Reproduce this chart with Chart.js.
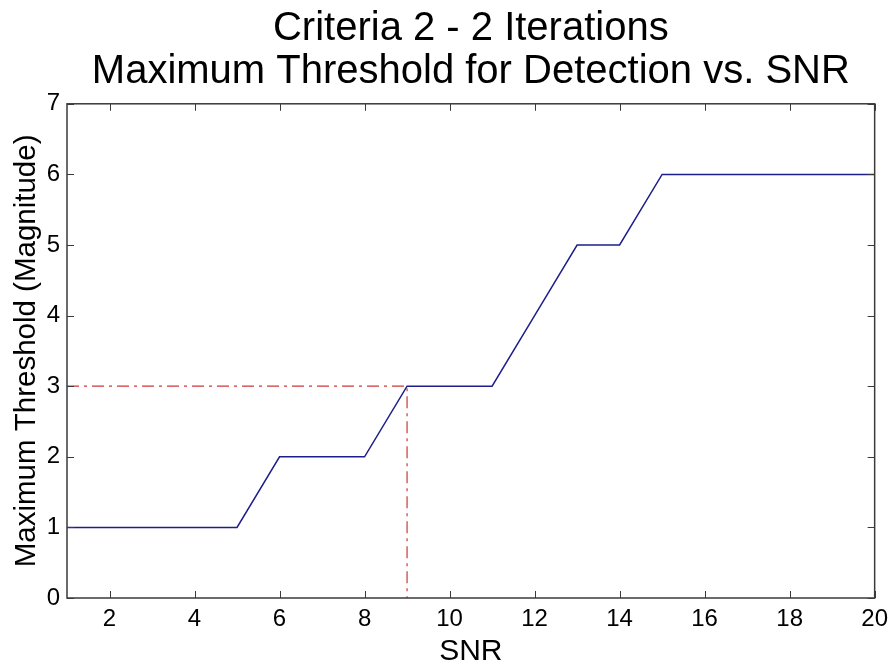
<!DOCTYPE html>
<html>
<head>
<meta charset="utf-8">
<script src="https://cdn.jsdelivr.net/npm/chart.js@4"></script>
<style>
  html, body { margin: 0; padding: 0; background: #fff; }
  #wrap { width: 895px; height: 663px; }
</style>
</head>
<body>
<div id="wrap"><canvas id="chart1"></canvas></div>
<script>
var snr = [1, 2, 3, 4, 5, 6, 7, 8, 9, 10, 11, 12, 13, 14, 15, 16, 17, 18, 19, 20];
var maxThreshold = [1, 1, 1, 1, 1, 2, 2, 2, 3, 3, 3, 4, 5, 5, 6, 6, 6, 6, 6, 6];
var refX = [1, 9, 9];
var refY = [3, 3, 0];
var xTicks = [2, 4, 6, 8, 10, 12, 14, 16, 18, 20];
var yTicks = [0, 1, 2, 3, 4, 5, 6, 7];

var FONT = "'Liberation Sans', Arial, sans-serif";

function toPoints(xs, ys) {
    var pts = [];
    for (var i = 0; i < xs.length; i++) {
        pts.push({ x: xs[i], y: ys[i] });
    }
    return pts;
}

// matlab style box with ticks pointing inward, on all four sides
var boxPlugin = {
    id: "box",
    afterDatasetsDraw: function (chart) {
        var c = chart.ctx;
        var a = chart.chartArea;
        var sx = chart.scales.x;
        var sy = chart.scales.y;
        var len = 7;
        c.save();
        c.strokeStyle = "#3a3a3a";
        c.lineWidth = 1.5;
        c.strokeRect(a.left, a.top, a.right - a.left, a.bottom - a.top);
        c.lineWidth = 1;
        c.beginPath();
        xTicks.forEach(function (v) {
            var px = Math.round(sx.getPixelForValue(v)) + 0.5;
            c.moveTo(px, a.bottom);
            c.lineTo(px, a.bottom - len);
            c.moveTo(px, a.top);
            c.lineTo(px, a.top + len);
        });
        yTicks.forEach(function (v) {
            var py = Math.round(sy.getPixelForValue(v)) + 0.5;
            c.moveTo(a.left, py);
            c.lineTo(a.left + len, py);
            c.moveTo(a.right, py);
            c.lineTo(a.right - len, py);
        });
        c.stroke();
        c.restore();
    }
};

var ctx = document.getElementById("chart1").getContext("2d");
var myChart = new Chart(ctx, {
    type: "line",
    data: {
        datasets: [
            {
                label: "Maximum Threshold",
                data: toPoints(snr, maxThreshold),
                borderColor: "#1e1e8c",
                borderWidth: 1.5,
                pointRadius: 0,
                tension: 0,
                fill: false
            },
            {
                label: "Reference",
                data: toPoints(refX, refY),
                borderColor: "rgb(205, 55, 55)",
                borderWidth: 1.2,
                borderDash: [12, 5, 3, 5],
                pointRadius: 0,
                tension: 0,
                fill: false
            }
        ]
    },
    options: {
        responsive: true,
        maintainAspectRatio: false,
        animation: false,
        layout: { padding: { top: 0, right: 18, bottom: 0, left: 0 } },
        plugins: {
            legend: { display: false },
            tooltip: { enabled: false },
            title: {
                display: true,
                fullSize: false,
                text: ["Criteria 2 - 2 Iterations", "Maximum Threshold for Detection vs. SNR"],
                color: "#000",
                font: { family: FONT, size: 40, weight: "normal", lineHeight: 1.06 },
                padding: { top: 8, bottom: 11 }
            }
        },
        scales: {
            x: {
                type: "linear",
                min: 1,
                max: 20,
                afterBuildTicks: function (scale) {
                    scale.ticks = xTicks.map(function (v) { return { value: v }; });
                },
                afterFit: function (scale) { scale.height = 65; },
                grid: { display: false, drawTicks: false },
                border: { display: false },
                ticks: {
                    color: "#000",
                    padding: 7,
                    maxRotation: 0,
                    font: { family: FONT, size: 24 }
                },
                title: {
                    display: true,
                    text: "SNR",
                    color: "#000",
                    font: { family: FONT, size: 30, lineHeight: 0.75 },
                    padding: { top: 0, bottom: 0 }
                }
            },
            y: {
                type: "linear",
                min: 0,
                max: 7,
                afterBuildTicks: function (scale) {
                    scale.ticks = yTicks.map(function (v) { return { value: v }; });
                },
                afterFit: function (scale) { scale.width = 67; },
                grid: { display: false, drawTicks: false },
                border: { display: false },
                ticks: {
                    color: "#000",
                    padding: 7,
                    font: { family: FONT, size: 24 }
                },
                title: {
                    display: true,
                    text: "Maximum Threshold (Magnitude)",
                    color: "#000",
                    font: { family: FONT, size: 29.5 },
                    padding: { top: 9, bottom: 0 }
                }
            }
        }
    },
    plugins: [boxPlugin]
});
</script>
</body>
</html>
